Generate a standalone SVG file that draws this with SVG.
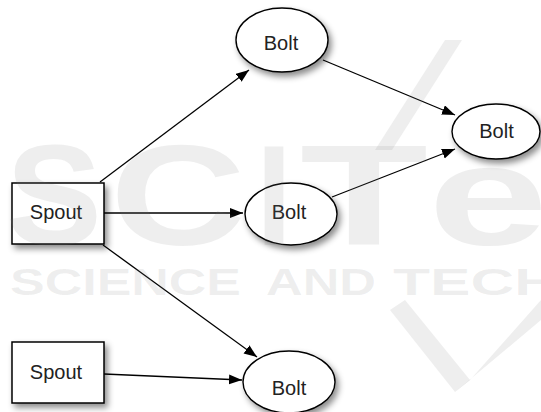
<svg xmlns="http://www.w3.org/2000/svg" width="541" height="412" viewBox="0 0 541 412">
<style>
.box{fill:#fff;stroke:#000;stroke-width:1.5}
.ell{fill:#fff;stroke:#000;stroke-width:1.4}
.lbl{font-family:"Liberation Sans",Arial,sans-serif;font-size:20px;fill:#222;text-anchor:middle}
.edge{stroke:#000;stroke-width:1.3;fill:none;marker-end:url(#arr)}
.wm{font-family:"Liberation Sans",Arial,sans-serif;font-weight:bold;fill:#7a7a7a;fill-opacity:0.13}
</style>
<defs>
<filter id="sh" x="-20%" y="-20%" width="150%" height="150%">
<feDropShadow dx="3" dy="4" stdDeviation="3" flood-color="#000" flood-opacity="0.45"/>
</filter>
<marker id="arr" markerUnits="userSpaceOnUse" markerWidth="14" markerHeight="12" refX="13" refY="5" orient="auto">
<path d="M0,0 L13,5 L0,10 Z" fill="#000"/>
</marker>
</defs>
<rect width="541" height="412" fill="#fff"/>
<g id="connectors">
<line class="edge" x1="100" y1="182" x2="249" y2="70"/>
<line class="edge" x1="104" y1="213" x2="243" y2="213"/>
<line class="edge" x1="103" y1="245" x2="257" y2="357"/>
<line class="edge" x1="104" y1="374" x2="242" y2="380"/>
<line class="edge" x1="323" y1="60" x2="455" y2="115"/>
<line class="edge" x1="332" y1="197" x2="455" y2="149"/>
</g>
<g id="spout1">
<rect class="box" x="12" y="183" width="92" height="61" filter="url(#sh)"/>
<text class="lbl" x="56" y="219">Spout</text>
</g>
<g id="spout2">
<rect class="box" x="12" y="342" width="92" height="61" filter="url(#sh)"/>
<text class="lbl" x="56" y="379">Spout</text>
</g>
<g id="bolt-top">
<ellipse class="ell" cx="282" cy="40" rx="46" ry="32" filter="url(#sh)"/>
<text class="lbl" x="281" y="50">Bolt</text>
</g>
<g id="bolt-right">
<ellipse class="ell" cx="496" cy="131.5" rx="44" ry="27.5" filter="url(#sh)"/>
<text class="lbl" x="496.5" y="138">Bolt</text>
</g>
<g id="bolt-middle">
<ellipse class="ell" cx="291" cy="214" rx="46" ry="31" filter="url(#sh)"/>
<text class="lbl" x="289" y="219">Bolt</text>
</g>
<g id="bolt-bottom">
<ellipse class="ell" cx="289" cy="382" rx="46" ry="31" filter="url(#sh)"/>
<text class="lbl" x="289" y="395">Bolt</text>
</g>
<g id="watermark">
<text class="wm" font-size="142" y="245"><tspan x="6" textLength="96" lengthAdjust="spacingAndGlyphs">S</tspan><tspan x="110" textLength="136" lengthAdjust="spacingAndGlyphs">C</tspan><tspan x="256" textLength="36" lengthAdjust="spacingAndGlyphs">I</tspan><tspan x="300" textLength="128" lengthAdjust="spacingAndGlyphs">T</tspan><tspan x="428" textLength="120" lengthAdjust="spacingAndGlyphs">e</tspan></text>
<polygon class="wm" points="445,40 462,40 392,150 375,150"/>
<polygon class="wm" points="390,310 405,300 470,380 455,392"/>
<polygon class="wm" points="455,392 470,380 541,300 541,320"/>
<text class="wm" font-size="36" y="295"><tspan x="10" textLength="231" lengthAdjust="spacingAndGlyphs">SCIENCE</tspan><tspan x="266" textLength="110" lengthAdjust="spacingAndGlyphs">AND</tspan><tspan x="393" textLength="165" lengthAdjust="spacingAndGlyphs">TECH</tspan></text>
</g>
</svg>
